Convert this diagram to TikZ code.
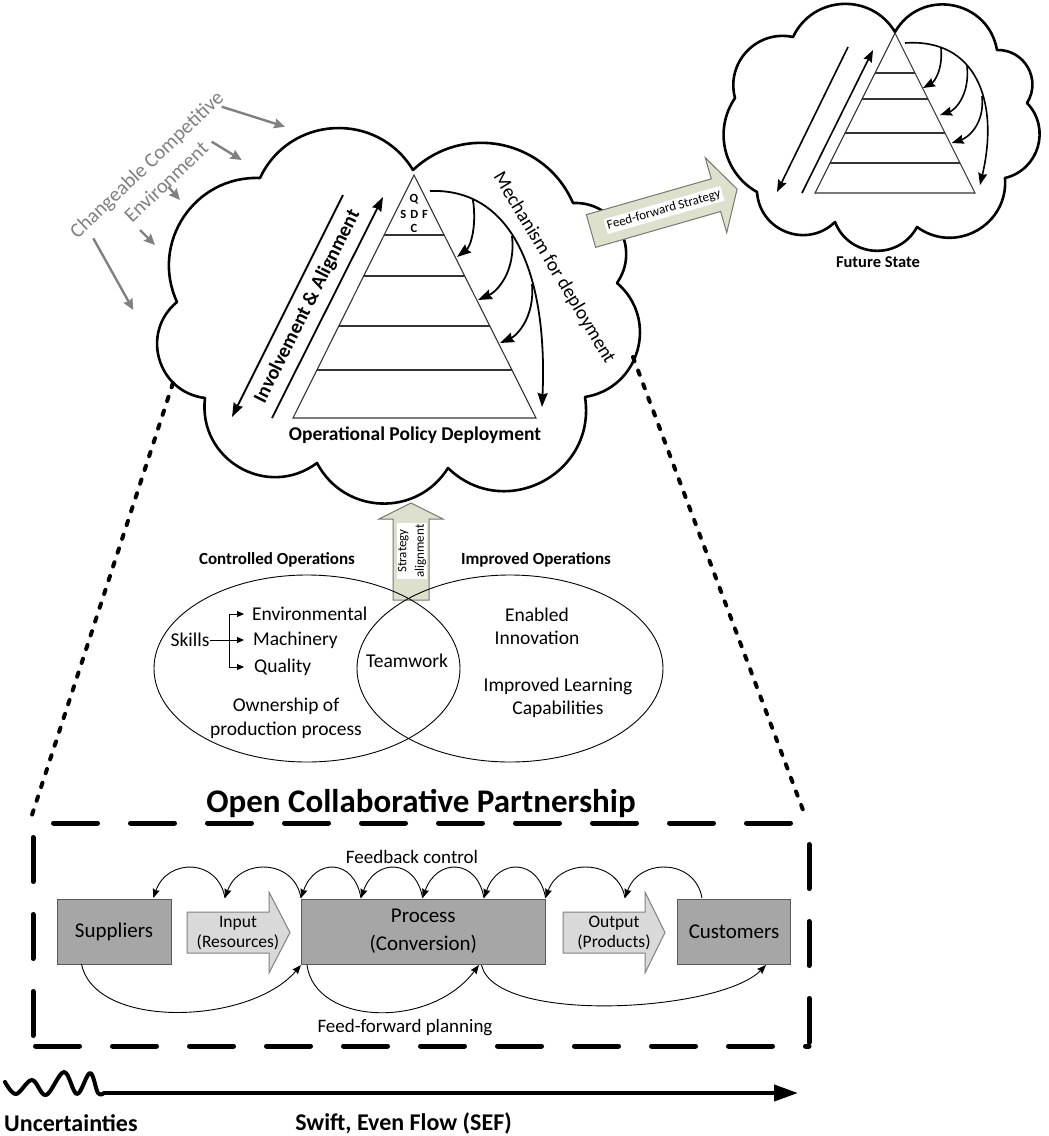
\documentclass[tikz,border=0pt]{standalone}
\usepackage{fontspec}
\setmainfont{Carlito}
\usetikzlibrary{arrows.meta,calc}
\definecolor{ffgreen}{RGB}{221,224,204}
\definecolor{ffedge}{RGB}{120,120,110}
\definecolor{boxgrey}{RGB}{166,166,166}
\definecolor{boxedge}{RGB}{90,90,90}
\definecolor{lgrey}{RGB}{217,217,217}
\definecolor{envgrey}{RGB}{128,128,128}
\newcommand{\fsz}[2]{\fontsize{#1}{#2}\selectfont}
\newcommand{\lobe}[4]{.. controls ($(#1)!#4!-#3:(#2)$) and ($(#2)!#4!#3:(#1)$) .. (#2)}
\begin{document}
\begin{tikzpicture}[x=1pt,y=-1pt,
 cl/.style={line width=2.6pt,line join=round},
 pyr/.style={line width=1.1pt,draw=black!80},
 tipb/.style={-{Stealth[length=14pt,width=10pt,inset=1.5pt]}},
 tips/.style={-{Stealth[length=12pt,width=9pt,inset=1.5pt]}},
 parr/.style={line width=1.8pt,tipb},
 parrs/.style={line width=1.6pt,tips},
 garr/.style={draw=envgrey,line width=2.4pt,-{Stealth[length=11pt,width=10pt,inset=1.5pt]}},
 dotl/.style={line width=4pt,dash pattern=on 4.5pt off 10pt,line cap=round},
 dashl/.style={line width=5pt,dash pattern=on 44pt off 33pt,line cap=round},
 blockg/.style={draw=ffedge,fill=ffgreen,line width=1pt},
 blockl/.style={draw=envgrey,fill=lgrey,line width=1pt},
 pbox/.style={draw=boxedge,fill=boxgrey,line width=1pt,inner sep=0pt},
 thinl/.style={line width=0.9pt},
 smarr/.style={line width=0.9pt,-{Triangle[length=7pt,width=6pt]}},
 fbarr/.style={line width=0.9pt,-{Stealth[length=9pt,width=7pt,inset=1pt]}},
 lbl/.style={inner sep=0pt},
 venn/.style={lbl,font=\fsz{19.5}{23.5}},
 envtxt/.style={lbl,rotate=43.6,text=envgrey,font=\fsz{20.5}{24}},
]
\useasboundingbox (0,0) rectangle (1049,1136);

% ---------- main cloud ----------
\coordinate (mT) at (413,170);
\coordinate (mA) at (260,178);
\coordinate (mB) at (177,302);
\coordinate (mC) at (205,398);
\coordinate (mD) at (317,463);
\coordinate (mE) at (448,468);
\coordinate (mF) at (585,397);
\coordinate (mH) at (617,283);
\coordinate (mI) at (573,203);
\draw[cl] (mT) \lobe{mT}{mA}{61.9}{0.453} \lobe{mA}{mB}{58.5}{0.438}
  \lobe{mB}{mC}{66.8}{0.479} \lobe{mC}{mD}{66.8}{0.479}
  \lobe{mD}{mE}{60.2}{0.446} \lobe{mE}{mF}{71.5}{0.506}
  \lobe{mF}{mH}{65.2}{0.470} \lobe{mH}{mI}{63.6}{0.461}
  \lobe{mI}{mT}{54.9}{0.424} -- cycle;

% ---------- future cloud ----------
\coordinate (fT) at (895,32);
\coordinate (fA) at (793,37);
\coordinate (fB) at (735,98);
\coordinate (fC) at (757,192);
\coordinate (fD) at (835,222);
\coordinate (fE) at (917,227);
\coordinate (fF) at (1005,178);
\coordinate (fG) at (1027,103);
\coordinate (fH) at (997,50);
\draw[cl] (fT) \lobe{fT}{fA}{61.9}{0.453} \lobe{fA}{fB}{58.5}{0.438}
  \lobe{fB}{fC}{47.5}{0.398} \lobe{fC}{fD}{65.2}{0.470}
  \lobe{fD}{fE}{65.2}{0.470} \lobe{fE}{fF}{65.2}{0.470}
  \lobe{fF}{fG}{60.2}{0.446} \lobe{fG}{fH}{61.9}{0.453}
  \lobe{fH}{fT}{70}{0.497} -- cycle;

% ---------- main pyramid ----------
\coordinate (pA) at (414,175);
\coordinate (pL) at (293,418);
\coordinate (pR) at (536,418);
\draw[pyr] (pA) -- (pL) -- (pR) -- cycle;
\foreach \t in {0.2469,0.4156,0.6214,0.8025}
  \draw[pyr] ($(pA)!\t!(pL)$) -- ($(pA)!\t!(pR)$);
\node[lbl,font=\bfseries\fsz{12.5}{14}] (qq) at (414,199) {Q};
\node[lbl,font=\bfseries\fsz{12.5}{14}] (qs) at (403.3,214) {S};
\node[lbl,font=\bfseries\fsz{12.5}{14}] (qd) at (414.3,214) {D};
\node[lbl,font=\bfseries\fsz{12.5}{14}] (qf) at (425,214) {F};
\node[lbl,font=\bfseries\fsz{12.5}{14}] (qc) at (414,228) {C};

\coordinate (ia1) at (343,195);
\coordinate (ia2) at (232,417);
\coordinate (ia3) at (272,418);
\coordinate (ia4) at (383,197);
\draw[parr] (ia1) -- (ia2);
\draw[parr] (ia3) -- (ia4);
\node[lbl,rotate=63.4,font=\bfseries\fsz{20}{22}] (inv) at (307.5,306.5) {Involvement \& Alignment};

\coordinate (ms) at (430,191);
\coordinate (me) at (542,407);
\draw[parr] (ms) .. controls (510,188) and (548,270) .. (me);
\coordinate (mb1) at (473,200);
\coordinate (mb2) at (512,236);
\coordinate (mb3) at (532,284);
\draw[parr] (mb1) .. controls (477,228) and (470,247) .. (457,257);
\draw[parr] (mb2) .. controls (516,273) and (496,292) .. (478,300);
\draw[parr] (mb3) .. controls (535,318) and (516,336) .. (500,343);
\node[lbl,rotate=-59,font=\fsz{19.5}{22}] (mech) at (554,268) {Mechanism for deployment};
\node[lbl,font=\bfseries\fsz{19.5}{22}] (opd) at (415,435) {Operational Policy Deployment};

% ---------- future pyramid ----------
\coordinate (qA) at (895,33);
\coordinate (qL) at (815,193);
\coordinate (qR) at (975,193);
\draw[pyr] (qA) -- (qL) -- (qR) -- cycle;
\foreach \t in {0.25,0.4125,0.625,0.8125}
  \draw[pyr] ($(qA)!\t!(qL)$) -- ($(qA)!\t!(qR)$);
\coordinate (fa1) at (848,47);
\coordinate (fa2) at (777,192);
\coordinate (fa3) at (802,193);
\coordinate (fa4) at (873,50);
\draw[parrs] (fa1) -- (fa2);
\draw[parrs] (fa3) -- (fa4);
\coordinate (fs) at (905,43);
\coordinate (fe) at (980,185);
\draw[parrs] (fs) .. controls (975,38) and (1000,100) .. (fe);
\draw[parrs] (941,48) .. controls (943,70) and (934,82) .. (923,88);
\draw[parrs] (967,66) .. controls (970,95) and (955,110) .. (940,115);
\draw[parrs] (982,96) .. controls (985,125) and (967,138) .. (951.7,143);
\node[lbl,font=\bfseries\fsz{16.5}{18}] (fut) at (878,262) {Future State};

% ---------- environment ----------
\node[envtxt] (env1) at (147.5,165.5) {Changeable Competitive};
\node[envtxt] (env2) at (166,182) {Environment};
\draw[garr] (221.7,106.7) -- (285,126.7);
\draw[garr] (211.7,141.7) -- (241.7,160);
\draw[garr] (168.3,186.7) -- (180,200);
\draw[garr] (140,230) -- (155,245);
\draw[garr] (93.3,238.3) -- (133.3,310);

% ---------- feed-forward strategy arrow ----------
\begin{scope}[shift={(591,231)},rotate=16]
 \draw[blockg] (0,-17) -- (130,-17) -- (130,-39) -- (152,0) -- (130,39) -- (130,17) -- (0,17) -- cycle;
\end{scope}
\node[rotate=16,fill=white,inner sep=2pt,font=\fsz{13}{15}] (ffs) at (664,210) {Feed-forward Strategy};

% ---------- dotted zoom lines ----------
\coordinate (dl1) at (173,383);
\coordinate (dl2) at (31,818);
\coordinate (dr1) at (633,357);
\coordinate (dr2) at (806,818);
\draw[dotl] (dl1) -- (dl2);
\draw[dotl] (dr1) -- (dr2);

% ---------- strategy alignment arrow ----------
\draw[blockg] (393,600) -- (393,519) -- (379,519) -- (411,503) -- (443,519) -- (429,519) -- (429,600) -- cycle;
\node[rotate=90,fill=white,inner sep=1pt,align=center,font=\fsz{13}{17.5}] (strat) at (412,551) {Strategy\\alignment};

% ---------- venn ----------
\draw[thinl] (307,668.5) ellipse [x radius=153pt,y radius=93.5pt];
\draw[thinl] (510,668.5) ellipse [x radius=153pt,y radius=93.5pt];
\node[lbl,font=\bfseries\fsz{17}{20}] (cop) at (277,560) {Controlled Operations};
\node[lbl,font=\bfseries\fsz{17}{20}] (iop) at (536,560) {Improved Operations};
\node[venn] (skills) at (190,640) {Skills};
\node[venn,anchor=west] (envt) at (252,614) {Environmental};
\node[venn,anchor=west] (mach) at (253,640) {Machinery};
\node[venn,anchor=west] (qual) at (254,667) {Quality};
\coordinate (sk) at (229,640);
\draw[thinl] (skills.east) -- (sk);
\draw[smarr] (sk) -- (244,640);
\draw[smarr] (sk) |- (244,614);
\draw[smarr] (sk) |- (244,667);
\node[venn] (team) at (407,661) {Teamwork};
\node[venn,align=center] (own) at (286,718.5) {Ownership of\\production process};
\node[venn,align=center] (enab) at (537,626.5) {Enabled\\Innovation};
\node[venn,align=center] (impl) at (558,698) {Improved Learning\\Capabilities};

% ---------- open collaborative partnership ----------
\node[lbl,font=\bfseries\fsz{33}{36}] (ocp) at (421,803) {Open Collaborative Partnership};
\coordinate (bTL) at (33,823);
\coordinate (bTR) at (809,823);
\coordinate (bBL) at (33,1046);
\coordinate (bBR) at (809,1046);
\draw[dashl,dash phase=56.5pt] (bTL) -- (bTR);
\draw[dashl,dash phase=62.5pt] (bTL) -- (bBL);
\draw[dashl,dash phase=74.5pt] (bBL) -- (bBR);
\draw[dashl,dash phase=55.5pt] (bTR) -- (bBR);

\node[pbox,minimum width=114pt,minimum height=65pt,font=\fsz{21}{25}] (sup) at (114,931.5) {Suppliers};
\node[pbox,minimum width=244.6pt,minimum height=65pt,align=center,font=\fsz{21}{28}] (proc) at (423.3,931.5) {Process\\(Conversion)};
\node[pbox,minimum width=113.4pt,minimum height=65pt,font=\fsz{21}{25}] (cust) at (734,931.5) {Customers};

\draw[blockl] (187,912) -- (269,912) -- (269,892) -- (290,932.5) -- (269,973) -- (269,953) -- (187,953) -- cycle;
\node[lbl,align=center,font=\fsz{17.5}{20}] (inp) at (238,933) {Input\\(Resources)};
\draw[blockl] (563,912) -- (645,912) -- (645,892) -- (665,932.5) -- (645,973) -- (645,953) -- (563,953) -- cycle;
\node[lbl,align=center,font=\fsz{17.5}{20}] (outp) at (614,933) {Output\\(Products)};

\coordinate (fb0) at (153.3,898);
\coordinate (fb1) at (225,898);
\coordinate (fb2) at (301,898);
\coordinate (fb3) at (361,898);
\coordinate (fb4) at (422.6,898);
\coordinate (fb5) at (484,898);
\coordinate (fb6) at (545.6,898);
\coordinate (fb7) at (625,898);
\coordinate (fb8) at (702,898);
\foreach \s/\e in {fb1/fb0,fb2/fb1,fb3/fb2,fb4/fb3,fb5/fb4,fb6/fb5,fb7/fb6,fb8/fb7}
  \draw[fbarr] (\s) .. controls +(-7,-40) and +(14,-40) .. (\e);
\node[lbl,font=\fsz{19}{22}] (fbc) at (412,857) {Feedback control};

\coordinate (ff1s) at (81.5,964);
\coordinate (ff1e) at (301,965);
\coordinate (ff2s) at (307,965);
\coordinate (ff2e) at (479,965);
\coordinate (ff3s) at (481.5,965);
\coordinate (ff3e) at (766,965);
\draw[fbarr] (ff1s) .. controls (95,1030) and (250,1025) .. (ff1e);
\draw[fbarr] (ff2s) .. controls (315,1025) and (430,1030) .. (ff2e);
\draw[fbarr] (ff3s) .. controls (495,1025) and (720,1012) .. (ff3e);
\node[lbl,font=\fsz{19}{22}] (ffp) at (405,1028) {Feed-forward planning};

% ---------- SEF ----------
\draw[line width=4pt,line join=round,line cap=round] plot[smooth,tension=0.6] coordinates {(5,1082) (16,1094) (32,1080) (46,1095) (64,1072) (77,1094) (90,1073) (98,1093) (104,1093)};
\coordinate (sefS) at (104,1093);
\coordinate (sefE) at (798,1093);
\draw[line width=4pt,-{Triangle[length=24pt,width=16pt]}] (sefS) -- (sefE);
\node[lbl,anchor=west,font=\bfseries\fsz{24}{26}] (unc) at (4,1123) {Uncertainties};
\node[lbl,font=\bfseries\fsz{24}{26}] (sef) at (403.5,1123) {Swift, Even Flow (SEF)};
\end{tikzpicture}
\end{document}
